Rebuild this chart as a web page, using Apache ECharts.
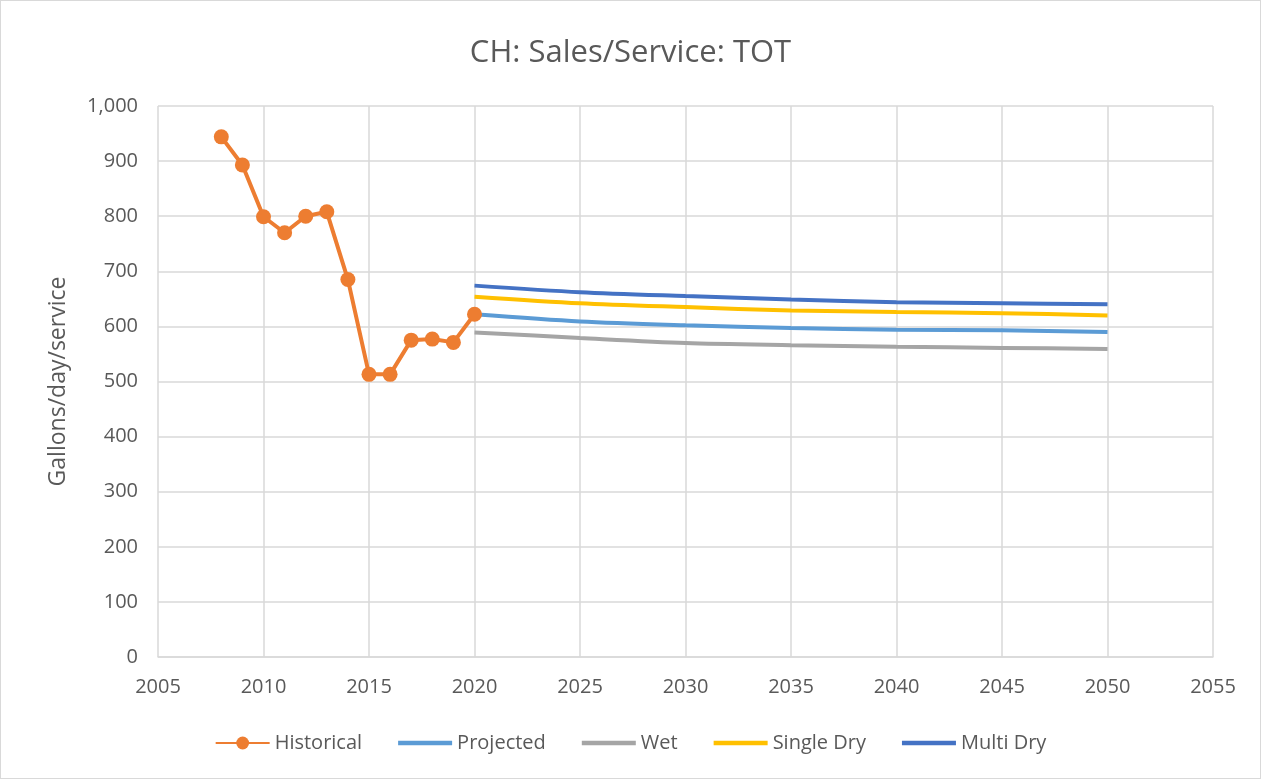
<!DOCTYPE html>
<html>
<head>
<meta charset="utf-8">
<script src="https://cdn.jsdelivr.net/npm/echarts@6/dist/echarts.min.js"></script>
<style>
  html, body { margin: 0; padding: 0; background: #fff; }
  #chart { width: 1259px; height: 777px; border: 1px solid #d9d9d9; }
</style>
</head>
<body>
<div id="chart"></div>
<script>
// historical years and values
var histYears = [2008, 2009, 2010, 2011, 2012, 2013, 2014, 2015, 2016, 2017, 2018, 2019, 2020];
var historical = [944, 893, 799, 770, 800, 808, 685, 513, 513, 575, 577, 571, 622];

// projection years and scenario values
var projYears = [2020, 2025, 2030, 2035, 2040, 2045, 2050];
var projected = [622, 609, 602, 597, 594, 593, 590];
var wet = [589, 579, 570, 566, 563, 561, 559];
var singleDry = [654, 642, 635, 629, 626, 624, 620];
var multiDry = [674, 662, 655, 649, 644, 642, 640];

function pairs(xs, ys) {
  return xs.map(function (x, i) { return [x, ys[i]]; });
}

var textColor = '#595959';
var gridColor = '#d9d9d9';
var font = 'Open Sans, Calibri, Liberation Sans, sans-serif';
var lineIcon = 'path://M0,0L50,0L50,4L0,4Z';

var chart = echarts.init(document.getElementById('chart'));

function projLine(name, color, data) {
  return {
    name: name,
    type: 'line',
    data: pairs(projYears, data),
    showSymbol: false,
    symbol: 'none',
    smooth: 0.3,
    lineStyle: { width: 4, color: color },
    itemStyle: { color: color },
    z: 2
  };
}

var option = {
  animation: false,
  textStyle: { fontFamily: font },
  title: {
    text: 'CH: Sales/Service: TOT',
    left: 'center',
    top: 32,
    textStyle: { fontSize: 31, fontWeight: 'normal', color: textColor, fontFamily: font }
  },
  legend: {
    bottom: 20,
    left: 'center',
    itemWidth: 54,
    itemHeight: 16,
    itemGap: 36,
    textStyle: { fontSize: 20, color: textColor, fontFamily: font },
    data: [
      { name: 'Historical' },
      { name: 'Projected', icon: lineIcon },
      { name: 'Wet', icon: lineIcon },
      { name: 'Single Dry', icon: lineIcon },
      { name: 'Multi Dry', icon: lineIcon }
    ]
  },
  grid: { left: 157, right: 47, top: 105, bottom: 121 },
  xAxis: {
    type: 'value',
    min: 2005,
    max: 2055,
    interval: 5,
    axisLine: { show: true, lineStyle: { color: gridColor, width: 1.5 } },
    axisTick: { show: false },
    axisLabel: { color: textColor, fontSize: 20, margin: 20, formatter: function (v) { return String(v); } },
    splitLine: { show: true, lineStyle: { color: gridColor, width: 1.5 } }
  },
  yAxis: {
    type: 'value',
    min: 0,
    max: 1000,
    interval: 100,
    name: 'Gallons/day/service',
    nameLocation: 'middle',
    nameGap: 88,
    nameTextStyle: { fontSize: 23, color: textColor },
    axisLine: { show: false },
    axisTick: { show: false },
    axisLabel: {
      color: textColor,
      fontSize: 20,
      margin: 20,
      formatter: function (v) { return v.toLocaleString('en-US'); }
    },
    splitLine: { show: true, lineStyle: { color: gridColor, width: 1.5 } }
  },
  series: [
    {
      name: 'Historical',
      type: 'line',
      data: pairs(histYears, historical),
      symbol: 'circle',
      symbolSize: 15,
      lineStyle: { width: 4, color: '#ed7d31' },
      itemStyle: { color: '#ed7d31' },
      z: 3
    },
    projLine('Projected', '#5b9bd5', projected),
    projLine('Wet', '#a5a5a5', wet),
    projLine('Single Dry', '#ffc000', singleDry),
    projLine('Multi Dry', '#4472c4', multiDry)
  ]
};

chart.setOption(option);
</script>
</body>
</html>
